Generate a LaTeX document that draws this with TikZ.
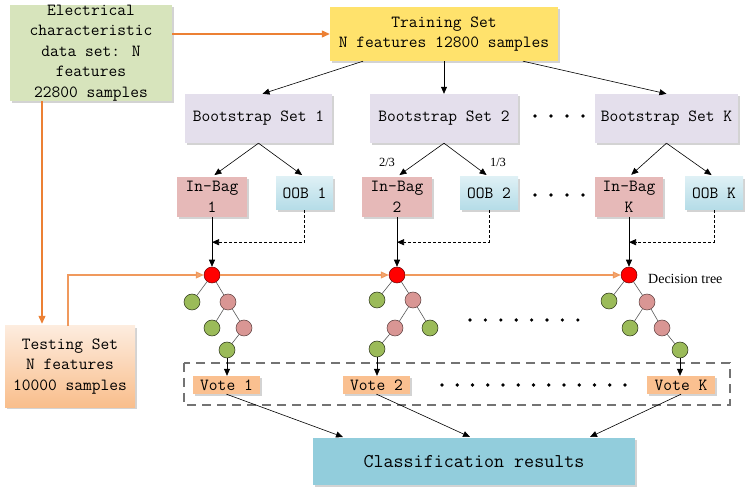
\documentclass[tikz,border=0pt]{standalone}
\usepackage{fontspec}
\newfontfamily\lserif{Liberation Serif}
\usetikzlibrary{arrows.meta,shadows}
\definecolor{gbox}{RGB}{215,228,188}
\definecolor{ybox}{RGB}{255,226,108}
\definecolor{lav}{RGB}{228,223,236}
\definecolor{bagc}{RGB}{230,185,184}
\definecolor{oobt}{RGB}{222,240,245}
\definecolor{oobb}{RGB}{180,220,231}
\definecolor{testt}{RGB}{253,236,222}
\definecolor{testb}{RGB}{249,190,140}
\definecolor{votec}{RGB}{250,192,144}
\definecolor{clsc}{RGB}{146,205,220}
\definecolor{tgreen}{RGB}{155,187,89}
\definecolor{tpink}{RGB}{217,150,148}
\definecolor{ocol}{RGB}{236,128,52}
\begin{document}
\begin{tikzpicture}[x=1pt,y=-1pt,
  box/.style={rectangle, inner sep=0pt, align=center,
    font=\fontsize{17}{20.5}\selectfont\ttfamily,
    drop shadow={shadow xshift=2pt,shadow yshift=-2pt,opacity=0.35}},
  arr/.style={-{Triangle[length=7pt,width=6pt]}, black, line width=0.6pt},
  oarr/.style={-{Triangle[length=8pt,width=7pt]}, ocol, line width=1.1pt},
  dotc/.style={circle, fill=black, inner sep=0pt, minimum size=3.6pt},
  tn/.style={circle, inner sep=0pt, minimum size=16pt, line width=0.5pt},
  lf/.style={tn, fill=tgreen, draw=black!75!tgreen},
  pk/.style={tn, fill=tpink, draw=black!60!tpink},
  rd/.style={tn, fill=red, draw=black!60!red},
  te/.style={draw=black!65, line width=0.6pt},
  lab/.style={font=\lserif\fontsize{12.5}{14}\selectfont, inner sep=0pt}
]
\useasboundingbox (0,0) rectangle (750,494);

% top boxes
\node[box, fill=gbox, minimum width=162pt, minimum height=95pt] (g) at (91,53)
  {Electrical\\characteristic\\data set: N\\features\\22800 samples};
\node[box, fill=ybox, minimum width=228pt, minimum height=54pt] (train) at (444,34)
  {Training Set\\N features 12800 samples};

% bootstrap sets
\node[box, fill=lav, minimum width=147pt, minimum height=49pt] (b1) at (258.5,118.5) {Bootstrap Set 1};
\node[box, fill=lav, minimum width=148pt, minimum height=49pt] (b2) at (444,118.5) {Bootstrap Set 2};
\node[box, fill=lav, minimum width=143pt, minimum height=49pt] (b3) at (666.5,118.5) {Bootstrap Set K};

% in-bag / oob
\node[box, fill=bagc, minimum width=70pt, minimum height=40pt] (ib1) at (212,197) {In-Bag\\1};
\node[box, fill=bagc, minimum width=70pt, minimum height=40pt] (ib2) at (397,197) {In-Bag\\2};
\node[box, fill=bagc, minimum width=68pt, minimum height=40pt] (ib3) at (629,197) {In-Bag\\K};
\node[box, top color=oobt, bottom color=oobb, minimum width=57pt, minimum height=33pt] (o1) at (304.5,193.5) {OOB 1};
\node[box, top color=oobt, bottom color=oobb, minimum width=58pt, minimum height=33pt] (o2) at (489,193.5) {OOB 2};
\node[box, top color=oobt, bottom color=oobb, minimum width=58pt, minimum height=33pt] (o3) at (714,193.5) {OOB K};

% testing set
\node[box, top color=testt, bottom color=testb, minimum width=130pt, minimum height=81pt] (test) at (70,366.5)
  {Testing Set\\N features\\10000 samples};

% dashed vote frame
\draw[dashed, dash pattern=on 9pt off 6pt, draw=black!55, line width=1.2pt] (184,363) rectangle (730,405);

% votes
\node[box, fill=votec, minimum width=67pt, minimum height=18pt] (v1) at (226.5,385) {Vote 1};
\node[box, fill=votec, minimum width=67pt, minimum height=18pt] (v2) at (376.5,385) {Vote 2};
\node[box, fill=votec, minimum width=68pt, minimum height=18pt] (v3) at (681,385) {Vote K};

% classification
\node[box, fill=clsc, minimum width=322pt, minimum height=47pt,
  font=\fontsize{19.5}{22}\selectfont\ttfamily] (cls) at (474,461.5) {Classification results};

% trees
\node[rd] (r1) at (212,275) {};
\node[lf] (t1a) at (192,302) {};
\node[pk] (t1b) at (228,302) {};
\node[lf] (t1c) at (212,328) {};
\node[pk] (t1d) at (244,328) {};
\node[lf] (t1e) at (227,350) {};
\draw[te] (r1) -- (t1a); \draw[te] (r1) -- (t1b);
\draw[te] (t1b) -- (t1c); \draw[te] (t1b) -- (t1d); \draw[te] (t1d) -- (t1e);

\node[rd] (r2) at (397,275) {};
\node[lf] (t2a) at (377,300) {};
\node[pk] (t2b) at (413,300) {};
\node[pk] (t2c) at (395,328) {};
\node[lf] (t2d) at (430,328) {};
\node[lf] (t2e) at (377,349) {};
\draw[te] (r2) -- (t2a); \draw[te] (r2) -- (t2b);
\draw[te] (t2b) -- (t2c); \draw[te] (t2b) -- (t2d); \draw[te] (t2c) -- (t2e);

\node[rd] (r3) at (629,275) {};
\node[lf] (t3a) at (609,301) {};
\node[pk] (t3b) at (647,302) {};
\node[lf] (t3c) at (630,328) {};
\node[pk] (t3d) at (662,328) {};
\node[lf] (t3e) at (680,350) {};
\draw[te] (r3) -- (t3a); \draw[te] (r3) -- (t3b);
\draw[te] (t3b) -- (t3c); \draw[te] (t3b) -- (t3d); \draw[te] (t3d) -- (t3e);

\node[lab, anchor=west, font=\lserif\fontsize{14}{16}\selectfont] (dt) at (648,279) {Decision tree};
\node[lab] (f23) at (387,162) {2/3};
\node[lab] (f13) at (498,162) {1/3};

% dots
\foreach \x [count=\i] in {535,551,567,583} {
  \node[dotc] (da\i) at (\x,116) {};
  \node[dotc] (db\i) at (\x,195) {};
}
\foreach \i in {0,...,7} { \node[dotc] (dc\i) at (470+15.4*\i,320) {}; }
\foreach \i in {0,...,12} { \node[dotc] (dd\i) at (442+15.25*\i,385) {}; }

% orange connectors
\draw[oarr] (g.east |- train.west) -- (train.west);
\coordinate (tin) at ([xshift=-28pt,yshift=2pt]test.north);
\draw[oarr] (g.south -| tin) -- (tin);
\draw[oarr, draw=ocol!80, -{Triangle[length=8pt,width=7pt,fill=ocol!70]}] ([xshift=-2pt]test.north) |- (r1.west);
\draw[oarr, draw=ocol!80, -{Triangle[length=8pt,width=7pt,fill=ocol!70]}] (r1.east) -- (r2.west);
\draw[oarr, draw=ocol!80, -{Triangle[length=8pt,width=7pt,fill=ocol!70]}] (r2.east) -- (r3.west);

% training -> bootstrap
\draw[arr] ([xshift=-81pt]train.south) -- ([xshift=4pt]b1.north);
\draw[arr] (train.south) -- (b2.north);
\draw[arr] ([xshift=79pt]train.south) -- (b3.north);

% bootstrap -> bags
\foreach \n in {1,2,3} {
  \draw[arr, shorten >=3pt] (b\n.south) -- (ib\n.north);
  \draw[arr, shorten >=3pt] (b\n.south) -- (o\n.north);
  \draw[arr] (ib\n.south) -- (r\n.north);
  \draw[arr, dashed, dash pattern=on 3pt off 2pt] (o\n.south) |- ([yshift=-25pt]ib\n.south);
}

% leaves -> votes
\draw[arr] (t1e.south) -- (t1e |- v1.north);
\draw[arr] (t2e.south) -- (t2e |- v2.north);
\draw[arr] (t3e.south) -- (t3e |- v3.north);

% votes -> classification
\coordinate (c1) at (343,437);
\coordinate (c2) at (470,437);
\coordinate (c3) at (590,437);
\draw[arr] (v1.south) -- (c1);
\draw[arr] (v2.south) -- (c2);
\draw[arr] (v3.south) -- (c3);
\end{tikzpicture}
\end{document}
